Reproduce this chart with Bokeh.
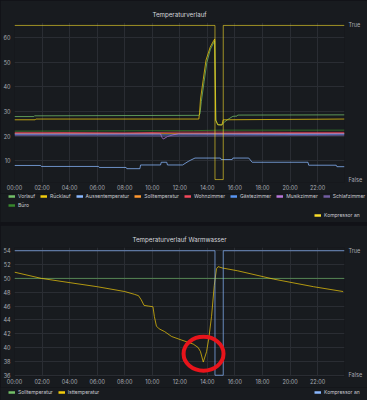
from bokeh.plotting import figure
from bokeh.models import Range1d, LinearAxis, FixedTicker, Legend, LegendItem
from bokeh.layouts import column, row
from bokeh.embed import file_html
from bokeh.resources import INLINE

try:
    from bokeh.models import GlobalInlineStyleSheet
    page_sheets = [GlobalInlineStyleSheet(
        css="html,body{margin:0;padding:0;background:#111217;overflow:hidden;}")]
except Exception:
    page_sheets = []

FONT = "Inter"
PANEL = "#181b1f"
PAGE = "#111217"
GRID = "#2a2d33"
TICK_C = "#a9acb4"
TITLE_C = "#d6d7dc"
LEG_C = "#c9cad0"
NAN = float("nan")

# ---------------- shared axis data ----------------
hour_ticks = [0, 2, 4, 6, 8, 10, 12, 14, 16, 18, 20, 22]
hour_labels = ["00:00", "02:00", "04:00", "06:00", "08:00", "10:00",
               "12:00", "14:00", "16:00", "18:00", "20:00", "22:00"]
x_end = 23.95
bool_ticks = [0, 1]
bool_labels = ["False", "True"]

# ---------------- top panel: Temperaturverlauf ----------------
top_title = "Temperaturverlauf"
top_yticks = [10, 20, 30, 40, 50, 60]

vorlauf_t = [0, 1.4, 1.45, 13.38, 13.46, 13.56, 13.76, 13.96, 14.22, 14.47, 14.53, 14.62,
             14.75, 15.05, 15.15, 15.5, 15.85, 16.15, 16.2, 23.95]
vorlauf_v = [27.9, 27.9, 28.2, 28.4, 29.0, 34.0, 42.0, 49.8, 55.2, 58.0, 58.6, 26.4,
             24.6, 24.5, 25.3, 26.8, 28.0, 28.1, 28.5, 28.6]

ruecklauf_t = [0, 1.5, 1.55, 13.38, 13.43, 13.5, 13.7, 13.9, 14.2, 14.47, 14.53, 14.6,
               14.75, 15.05, 15.15, 23.95]
ruecklauf_v = [26.6, 26.6, 26.9, 26.9, 29.5, 35.0, 43.0, 50.8, 56.0, 58.8, 59.3, 26.5,
               24.6, 24.5, 26.6, 26.9]

aussen_t = [0, 1.9, 1.95, 6.1, 6.15, 8.1, 8.15, 9.1, 9.15, 10.6, 10.65, 11.05, 11.1,
            12.2, 12.6, 12.8, 13.1, 14.95, 15.0, 15.8, 15.85, 17.0, 17.25, 21.3, 21.35,
            23.35, 23.4, 23.95]
aussen_v = [8.1, 8.1, 7.7, 7.7, 7.3, 7.3, 6.8, 6.8, 8.3, 8.3, 9.4, 9.4, 8.3,
            8.3, 9.7, 10.3, 11.1, 11.1, 10.5, 10.5, 11.1, 11.1, 9.4, 9.4, 8.2,
            8.2, 7.6, 7.6]

soll_t = [0, 23.95]
soll_v = [21.0, 21.0]

wohn_t = [0, 2, 8, 12, 16, 20, 23.95]
wohn_v = [21.5, 21.5, 21.3, 21.6, 21.6, 21.5, 21.5]

gaeste_t = [0, 12, 23.95]
gaeste_v = [20.6, 20.5, 20.7]

musik_t = [0, 10.6, 10.7, 10.8, 11.1, 11.5, 11.9, 23.95]
musik_v = [20.9, 20.9, 19.5, 18.8, 19.8, 20.5, 20.9, 21.0]

schlaf_t = [0, 12, 23.95]
schlaf_v = [20.2, 20.0, 20.3]

buero_t = [0, 13, 15, 23.95]
buero_v = [22.0, 22.2, 22.4, 22.4]

kompressor_t = [0, 14.55, 14.55, 15.15, 15.15, 23.95]
kompressor_v = [1, 1, 0, 0, 1, 1]

top_series = [
    ("Vorlauf", vorlauf_t, vorlauf_v, "#73BF69"),
    ("Rücklauf", ruecklauf_t, ruecklauf_v, "#F2CC0C"),
    ("Aussentemperatur", aussen_t, aussen_v, "#8AB8FF"),
    ("Solltemperatur", soll_t, soll_v, "#FF9830"),
    ("Wohnzimmer", wohn_t, wohn_v, "#F2495C"),
    ("Gästezimmer", gaeste_t, gaeste_v, "#5794F2"),
    ("Musikzimmer", musik_t, musik_v, "#B877D9"),
    ("Schlafzimmer", schlaf_t, schlaf_v, "#705DA0"),
    ("Büro", buero_t, buero_v, "#37872D"),
]
top_komp_color = "#FADE2A"

# ---------------- bottom panel: Warmwasser ----------------
bot_title = "Temperaturverlauf Warmwasser"
bot_yticks = [36, 38, 40, 42, 44, 46, 48, 50, 52, 54]

ww_soll_t = [0, 23.95]
ww_soll_v = [50.0, 50.0]

ww_ist_t = [0, 1.95, 3.96, 6.0, 8.0, 8.7, 9.0, 9.2, 9.4, 9.7, 10.05, 10.15, 10.3, 10.5,
            10.9, 11.4, 12.1, 12.97, 13.33, 13.5, 13.7, 13.94, 14.1, 14.3, 14.5, 14.66,
            14.78, 15.1, 16.2, 18.8, 21.7, 23.85]
ww_ist_v = [50.9, 50.0, 49.4, 48.8, 48.1, 47.7, 47.5, 46.9, 46.1, 46.0, 45.9, 44.5, 43.1, 42.7,
            42.3, 41.6, 41.1, 40.5, 40.0, 39.4, 37.9, 39.4, 41.3, 44.5, 49.0, 51.4,
            51.7, 51.5, 51.1, 49.9, 48.8, 48.1]

ww_komp_t = [0, 14.55, 14.55, 15.15, 15.15, 23.95]
ww_komp_v = [1, 1, 0, 0, 1, 1]

# red hand-drawn marking (centre time, centre temperature, width in h, height in degC)
mark_x = [13.72]
mark_y = [39.1]
mark_w = [2.9]
mark_h = [4.9]

W = 367


def base_fig(title, height, y0, y1, b0, b1, yticks):
    p = figure(width=W, height=height, title=title, output_backend="svg",
               toolbar_location=None, x_range=Range1d(0, x_end),
               y_range=Range1d(y0, y1), min_border_left=12, min_border_right=23,
               min_border_top=22, min_border_bottom=9)
    p.extra_y_ranges = {"bool": Range1d(b0, b1)}
    p.background_fill_color = PANEL
    p.border_fill_color = PANEL
    p.outline_line_color = None
    p.title.text_font = FONT
    p.title.text_font_size = "6.2px"
    p.title.text_font_style = "normal"
    p.title.text_color = TITLE_C
    p.title.align = "center"
    p.title.standoff = 10

    p.xaxis.ticker = FixedTicker(ticks=hour_ticks)
    p.xaxis.major_label_overrides = {t: l for t, l in zip(hour_ticks, hour_labels)}
    p.yaxis.ticker = FixedTicker(ticks=yticks)
    p.xgrid.ticker = FixedTicker(ticks=hour_ticks)

    ax_r = LinearAxis(y_range_name="bool", ticker=FixedTicker(ticks=bool_ticks),
                      major_label_overrides={t: l for t, l in zip(bool_ticks, bool_labels)})
    p.add_layout(ax_r, "right")

    for ax in [p.xaxis[0], p.yaxis[0], ax_r]:
        ax.axis_line_color = None
        ax.major_tick_line_color = None
        ax.minor_tick_line_color = None
        ax.major_tick_out = 0
        ax.major_tick_in = 0
        ax.major_label_text_font = FONT
        ax.major_label_text_font_size = "5.5px"
        ax.major_label_text_color = TICK_C
        ax.major_label_standoff = 4
    p.xaxis.major_label_standoff = 2

    p.xgrid.grid_line_color = GRID
    p.ygrid.grid_line_color = GRID
    return p


def legend_strip(height):
    s = figure(width=W, height=height, output_backend="svg", toolbar_location=None,
               x_range=Range1d(0, 1), y_range=Range1d(0, 1),
               x_axis_type=None, y_axis_type=None, min_border=0,
               min_border_left=0, min_border_right=0, min_border_top=0,
               min_border_bottom=0)
    s.grid.visible = False
    s.outline_line_color = None
    s.background_fill_color = PANEL
    s.border_fill_color = PANEL
    return s


def make_legend(s, entries, loc, spacing=5):
    items = []
    for name, color in entries:
        # legend swatch only: a single NaN point draws nothing on the strip
        r = s.line(x=[NAN], y=[NAN], line_color=color, line_width=2.5)
        items.append(LegendItem(label=name, renderers=[r]))
    lg = Legend(items=items, location=loc, orientation="horizontal",
                label_text_font=FONT, label_text_font_size="5px",
                label_text_color=LEG_C, label_height=6, label_width=0,
                glyph_height=6, glyph_width=7, label_standoff=3,
                spacing=spacing, padding=0, margin=0,
                border_line_color=None, background_fill_alpha=0)
    s.add_layout(lg, "center")
    return lg


# ---------- top figure ----------
p1 = base_fig(top_title, 193, 1.2, 66.0, -0.019, 1.019, top_yticks)
for name, t, v, c in top_series:
    p1.line(t, v, line_color=c, line_width=1, line_alpha=0.75)
p1.line(kompressor_t, kompressor_v, y_range_name="bool", line_color=top_komp_color,
        line_width=1, line_alpha=0.6)

s1 = legend_strip(29)
make_legend(s1, [(s[0], s[3]) for s in top_series[:8]], (8, 23))
make_legend(s1, [(s[0], s[3]) for s in top_series[8:]], (8, 14))
make_legend(s1, [("Kompressor an", top_komp_color)], (314, 4))

# ---------- bottom figure ----------
p2 = base_fig(bot_title, 162, 35.81, 54.47, -0.010, 1.026, bot_yticks)
p2.line(ww_soll_t, ww_soll_v, line_color="#73BF69", line_width=1, line_alpha=0.6)
p2.line(ww_ist_t, ww_ist_v, line_color="#F2CC0C", line_width=1, line_alpha=0.7)
p2.line(ww_komp_t, ww_komp_v, y_range_name="bool", line_color="#8AB8FF",
        line_width=1, line_alpha=0.7)
p2.ellipse(x=mark_x, y=mark_y, width=mark_w, height=mark_h, fill_alpha=0,
           line_color="#e8141b", line_width=4)

s2 = legend_strip(13)
make_legend(s2, [("Solltemperatur", "#73BF69"), ("Isttemperatur", "#F2CC0C")], (8, 5))
make_legend(s2, [("Kompressor an", "#8AB8FF")], (314, 5))

layout = column(column(p1, row(s1), spacing=0), column(p2, row(s2), spacing=0), spacing=3,
                styles={"background-color": PAGE}, stylesheets=page_sheets)

open("out.html", "w").write(file_html(layout, INLINE))
